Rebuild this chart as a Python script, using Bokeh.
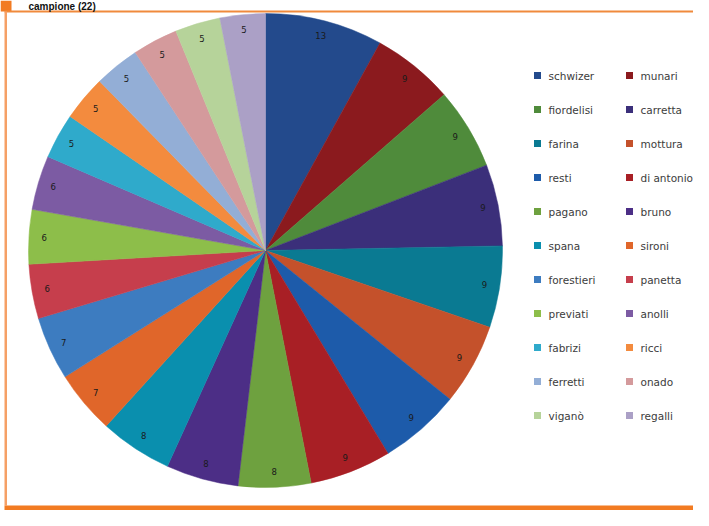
import numpy as np
from bokeh.plotting import figure, ColumnDataSource
from bokeh.models import Range1d
from bokeh.core.properties import value
from bokeh.embed import file_html
from bokeh.resources import INLINE

title_text = "campione (22)"
names = ["schwizer", "munari", "fiordelisi", "carretta", "farina", "mottura",
         "resti", "di antonio", "pagano", "bruno", "spana", "sironi",
         "forestieri", "panetta", "previati", "anolli", "fabrizi", "ricci",
         "ferretti", "onado", "viganò", "regalli"]
counts = [13, 9, 9, 9, 9, 9, 9, 9, 8, 8, 8, 7, 7, 6, 6, 6, 5, 5, 5, 5, 5, 5]
colors = ["#234A8C", "#8B1A1E", "#4F8B3B", "#3B2F7A", "#0A7A92", "#C4512B",
          "#1D5BAA", "#A81F25", "#6EA13F", "#4C2E86", "#0A8FAE", "#E0662A",
          "#3D7CC0", "#C63E4C", "#8DBE4A", "#7C5BA3", "#2FAACB", "#F38B3E",
          "#93AED6", "#D49A9C", "#B6D39A", "#ABA0C6"]

W, H = 693, 510
p = figure(width=W, height=H, output_backend="svg", toolbar_location=None,
           x_range=Range1d(0, W), y_range=Range1d(0, H),
           x_axis_type=None, y_axis_type=None, min_border=0,
           outline_line_color=None, background_fill_color="white")
p.grid.visible = False

def Y(y):
    return H - y

ORANGE = "#F27B22"
# header: orange block, line, title
p.quad(left=[0], right=[11], bottom=[Y(11)], top=[Y(0)],
       fill_color=ORANGE, line_color=None)
p.quad(left=[4], right=[W], bottom=[Y(12)], top=[Y(10)],
       fill_color="#F08A3C", line_color=None)
p.quad(left=[4], right=[6.5], bottom=[Y(505)], top=[Y(11)],
       fill_color="#F5A066", line_color=None)
p.text(x=[28], y=[Y(0.5)], text=[title_text], text_align="left",
       text_baseline="top", text_font_size="10px",
       text_font_style="bold", text_color="#111111",
       text_font=value("Liberation Sans"))
# footer band
p.quad(left=[4], right=[W], bottom=[Y(526)], top=[Y(505)],
       fill_color=ORANGE, line_color=None)

# pie
cx, cy, R = 265, Y(250), 237
vals = np.array(counts, dtype=float)
k = 2 * np.pi / vals.sum()
cum = np.concatenate([[0], np.cumsum(vals)])
start = np.pi / 2 - cum[1:] * k
end = np.pi / 2 - cum[:-1] * k
mid = (start + end) / 2
src = ColumnDataSource(dict(start=start, end=end, color=colors,
                            lx=cx + 0.935 * R * np.cos(mid),
                            ly=cy + 0.935 * R * np.sin(mid),
                            lab=[str(c) for c in counts]))
p.wedge(x=cx, y=cy, radius=R, start_angle="start", end_angle="end",
        fill_color="color", line_color="color", line_width=0.5, source=src)
p.text(x="lx", y="ly", text="lab", source=src, text_align="center",
       text_baseline="middle", text_font_size="8.5px", text_color="#1a1a1a",
       text_font=value("DejaVu Sans"))

# legend
idx = np.arange(len(names))
col = idx % 2
row = idx // 2
sq_x = np.where(col == 0, 537, 629)
tx = np.where(col == 0, 548, 640)
ly = Y(75 + row * 34)
lsrc = ColumnDataSource(dict(sx=sq_x, tx=tx, y=ly, color=colors, name=names))
p.rect(x="sx", y="y", width=7, height=7, fill_color="color", line_color=None,
       source=lsrc)
p.text(x="tx", y="y", text="name", source=lsrc, text_align="left",
       text_baseline="middle", text_font_size="10.5px", text_color="#3c3c3c",
       text_font=value("DejaVu Sans"))

open("out.html", "w").write(file_html(p, INLINE))
